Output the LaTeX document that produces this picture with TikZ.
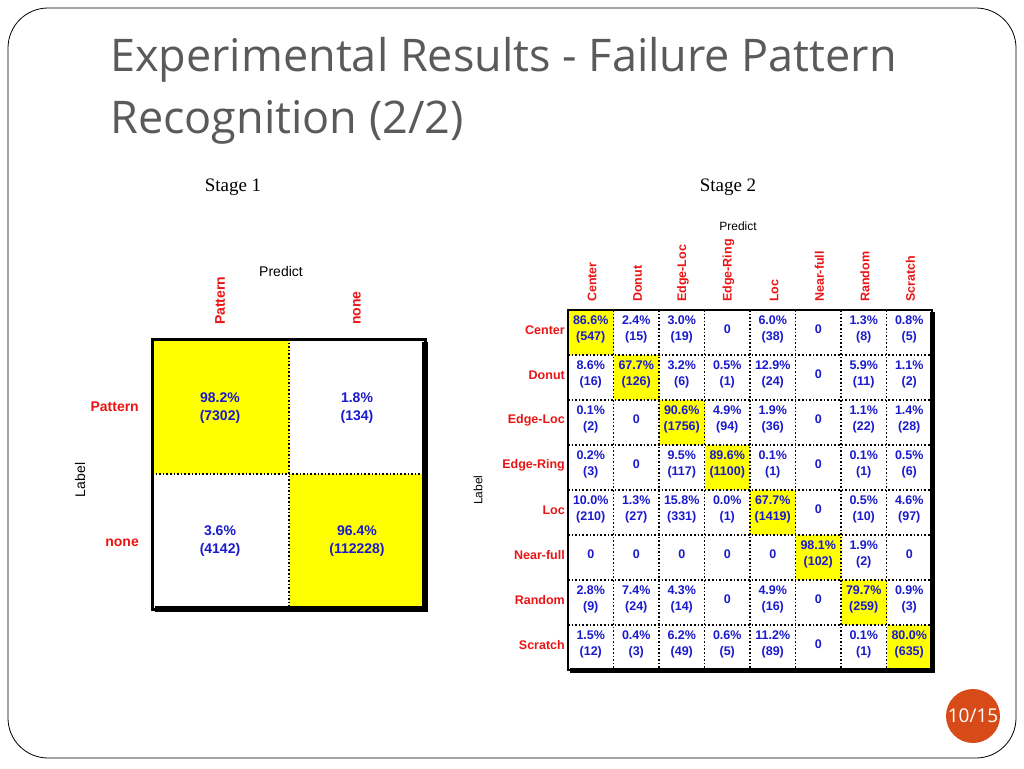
\documentclass[tikz,border=0pt]{standalone}
\usepackage{fontspec}
\setmainfont{Liberation Sans}
\newfontfamily\titlefont{Open Sans}
\newfontfamily\serifont{Liberation Serif}
\usetikzlibrary{positioning}
\definecolor{titlegray}{RGB}{90,90,90}
\definecolor{cellblue}{RGB}{25,25,205}
\definecolor{labred}{RGB}{235,20,20}
\definecolor{cellyellow}{RGB}{255,255,0}
\definecolor{pagered}{RGB}{215,75,25}
\tikzset{
	cell/.style={font=\fontsize{12.5}{16}\selectfont\bfseries, text=cellblue, align=center, inner sep=0pt},
	bigcell/.style={font=\fontsize{14}{18}\selectfont\bfseries, text=cellblue, align=center, inner sep=0pt},
	rowlab/.style={font=\fontsize{12.5}{14}\selectfont\bfseries, text=labred, anchor=east, inner sep=1pt},
	collab/.style={font=\fontsize{12.5}{14}\selectfont\bfseries, text=labred, rotate=90, anchor=west, inner sep=1pt},
	biglab/.style={font=\fontsize{14}{16}\selectfont\bfseries, text=labred, inner sep=1pt},
	axis/.style={font=\fontsize{12}{14}\selectfont, inner sep=1pt},
	grid/.style={line width=1.6pt, dotted},
	frame/.style={line width=3pt}
}
\begin{document}
\begin{tikzpicture}[x=1pt,y=-1pt]
\useasboundingbox (0,0) rectangle (1024,768);
% slide
\draw[line width=0.8pt, rounded corners=40pt] (8,8) rectangle (1016,758);
\node[anchor=west, text=titlegray, font=\titlefont\fontsize{45}{62}\selectfont, align=left, inner sep=0pt] (title) at (110,91)
	{Experimental Results - Failure Pattern\\Recognition (2/2)};
\node[font=\serifont\fontsize{19}{22}\selectfont] (st1) at (233,187) {Stage 1};
\node[font=\serifont\fontsize{19}{22}\selectfont] (st2) at (728,187) {Stage 2};

% stage 1 matrix
\fill[cellyellow] (152,339) rectangle (289,474);
\fill[cellyellow] (289,474) rectangle (425,609);
\draw[grid] (289,339) -- (289,609) (152,474) -- (425,474);
\fill (155,606) rectangle (428,612);
\fill (422,342) rectangle (428,612);
\draw[frame] (152,339) rectangle (425,609);
\node[bigcell] (a11) at (220,408) {98.2\%\\(7302)};
\node[bigcell] (a12) at (357,408) {1.8\%\\(134)};
\node[bigcell] (a21) at (220,541) {3.6\%\\(4142)};
\node[bigcell] (a22) at (357,541) {96.4\%\\(112228)};
\node[biglab, anchor=east] (lp) at (140,407) {Pattern};
\node[biglab, anchor=east] (ln) at (140,543) {none};
\node[biglab, rotate=90, anchor=west] (cp) at (220,326) {Pattern};
\node[biglab, rotate=90, anchor=west] (cn) at (357,326) {none};
\node[axis, font=\fontsize{14}{16}\selectfont] (pr1) at (281,271) {Predict};
\node[axis, font=\fontsize{14}{16}\selectfont, rotate=90] (lb1) at (80,480) {Label};

% stage 2 matrix
\foreach \i in {0,...,7}
	\fill[cellyellow] (568+45.5*\i,310+45*\i) rectangle (613.5+45.5*\i,355+45*\i);
\foreach \i in {1,...,7}{
	\draw[grid] (568+45.5*\i,310) -- (568+45.5*\i,670);
	\draw[grid] (568,310+45*\i) -- (932,310+45*\i);
}
\fill (570,668) rectangle (935,673);
\fill (930,312) rectangle (935,673);
\draw[line width=2.5pt] (568,310) rectangle (932,670);
\foreach \n [count=\i from 0] in {Center,Donut,Edge-Loc,Edge-Ring,Loc,Near-full,Random,Scratch}{
	\node[rowlab] (r\i) at (566,330+45*\i) {\n};
	\node[collab] (k\i) at (592+45.5*\i,303) {\n};
}
\foreach \c/\t in {0/{86.6\%\\(547)},1/{2.4\%\\(15)},2/{3.0\%\\(19)},3/0,4/{6.0\%\\(38)},5/0,6/{1.3\%\\(8)},7/{0.8\%\\(5)}}
	\node[cell] (m0\c) at (590.75+45.5*\c,329) {\t};
\foreach \c/\t in {0/{8.6\%\\(16)},1/{67.7\%\\(126)},2/{3.2\%\\(6)},3/{0.5\%\\(1)},4/{12.9\%\\(24)},5/0,6/{5.9\%\\(11)},7/{1.1\%\\(2)}}
	\node[cell] (m1\c) at (590.75+45.5*\c,374) {\t};
\foreach \c/\t in {0/{0.1\%\\(2)},1/0,2/{90.6\%\\(1756)},3/{4.9\%\\(94)},4/{1.9\%\\(36)},5/0,6/{1.1\%\\(22)},7/{1.4\%\\(28)}}
	\node[cell] (m2\c) at (590.75+45.5*\c,419) {\t};
\foreach \c/\t in {0/{0.2\%\\(3)},1/0,2/{9.5\%\\(117)},3/{89.6\%\\(1100)},4/{0.1\%\\(1)},5/0,6/{0.1\%\\(1)},7/{0.5\%\\(6)}}
	\node[cell] (m3\c) at (590.75+45.5*\c,464) {\t};
\foreach \c/\t in {0/{10.0\%\\(210)},1/{1.3\%\\(27)},2/{15.8\%\\(331)},3/{0.0\%\\(1)},4/{67.7\%\\(1419)},5/0,6/{0.5\%\\(10)},7/{4.6\%\\(97)}}
	\node[cell] (m4\c) at (590.75+45.5*\c,509) {\t};
\foreach \c/\t in {0/0,1/0,2/0,3/0,4/0,5/{98.1\%\\(102)},6/{1.9\%\\(2)},7/0}
	\node[cell] (m5\c) at (590.75+45.5*\c,554) {\t};
\foreach \c/\t in {0/{2.8\%\\(9)},1/{7.4\%\\(24)},2/{4.3\%\\(14)},3/0,4/{4.9\%\\(16)},5/0,6/{79.7\%\\(259)},7/{0.9\%\\(3)}}
	\node[cell] (m6\c) at (590.75+45.5*\c,599) {\t};
\foreach \c/\t in {0/{1.5\%\\(12)},1/{0.4\%\\(3)},2/{6.2\%\\(49)},3/{0.6\%\\(5)},4/{11.2\%\\(89)},5/0,6/{0.1\%\\(1)},7/{80.0\%\\(635)}}
	\node[cell] (m7\c) at (590.75+45.5*\c,644) {\t};
\node[axis] (pr2) at (738,226) {Predict};
\node[axis, rotate=90] (lb2) at (478,490) {Label};

% page number
\fill[pagered] (973,716) circle (27);
\node[text=white, font=\titlefont\fontsize{19}{22}\selectfont] (pg) at (973,716) {10/15};
\end{tikzpicture}
\end{document}
